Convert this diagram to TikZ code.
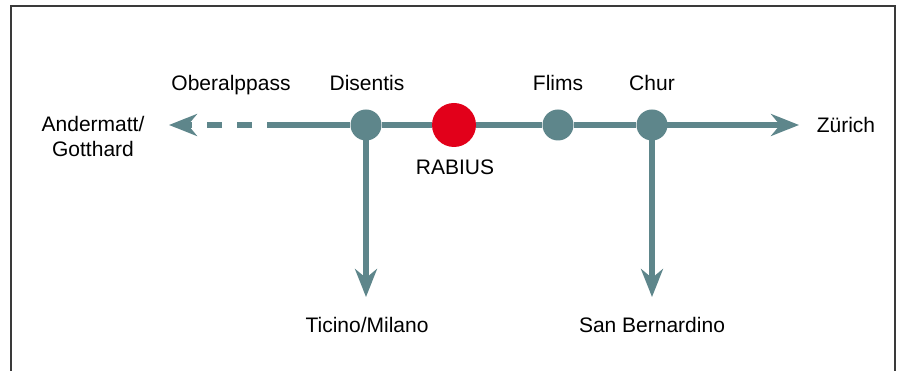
\documentclass[tikz,border=0pt]{standalone}
\usepackage{fontspec}
\setmainfont{Liberation Sans}
\usetikzlibrary{arrows.meta,backgrounds}
\definecolor{teal}{HTML}{5E868B}
\definecolor{rabred}{HTML}{E2001A}
\definecolor{frame}{HTML}{3A3A3A}
\begin{document}
\begin{tikzpicture}[x=1pt,y=1pt,
  route/.style={draw=teal,line width=5.5pt},
  tip/.style={-{Stealth[length=28pt,width=22pt,inset=9pt]}},
  stop/.style={circle,fill=teal,inner sep=0pt,minimum size=31pt},
  hub/.style={circle,fill=rabred,inner sep=0pt,minimum size=44pt},
  lbl/.style={font=\fontsize{21}{25}\selectfont,text=black,inner sep=0pt}]
\useasboundingbox (0,0) rectangle (902,371);
\draw[frame,line width=1.3pt] (11,0) -- (11,365) -- (895,365) -- (895,0);
% stations
\node[stop] (dis) at (366,246) {};
\node[hub]  (rab) at (454,246) {};
\node[stop] (fli) at (558,246) {};
\node[stop] (chu) at (652,246) {};
% free ends
\coordinate (w1) at (267,246);
\coordinate (west) at (169,246);
\coordinate (east) at (799,246);
\coordinate (south1) at (366,74);
\coordinate (south2) at (652,74);
\begin{scope}[on background layer]
\draw[route] (w1) -- (dis) -- (rab) -- (fli) -- (chu);
\draw[route,tip] (chu.center) -- (east);
\draw[route,tip,dash pattern=on 15pt off 15pt,dash phase=15pt] (w1) -- (west);
\draw[route,tip] (dis.center) -- (south1);
\draw[route,tip] (chu.center) -- (south2);
\end{scope}
% labels
\node[lbl,anchor=base] (lober) at (231,280) {Oberalppass};
\node[lbl,anchor=base] (ldis) at (367,280) {Disentis};
\node[lbl,anchor=base] (lfli) at (558,280) {Flims};
\node[lbl,anchor=base] (lchu) at (652,280) {Chur};
\node[lbl,anchor=base] (lrab) at (455,196) {RABIUS};
\node[lbl,anchor=base] (lzur) at (846,238) {Zürich};
\node[lbl,align=center] (land) at (93,234) {Andermatt/\\Gotthard};
\node[lbl,anchor=base] (ltic) at (367,38) {Ticino/Milano};
\node[lbl,anchor=base] (lsan) at (652,38) {San Bernardino};
\end{tikzpicture}
\end{document}
